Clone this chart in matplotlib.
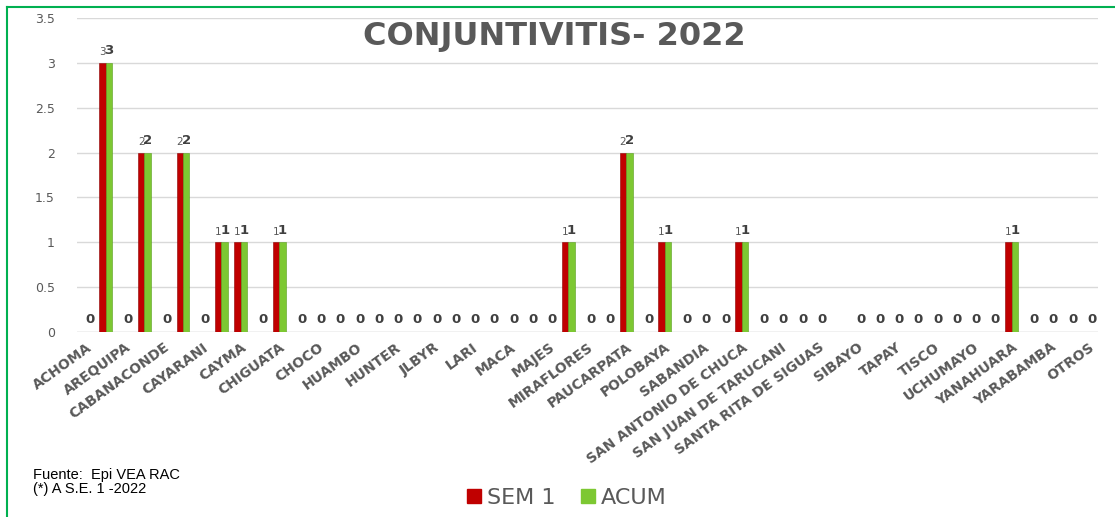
import numpy as np
import matplotlib
matplotlib.use("Agg")
import matplotlib.pyplot as plt
from matplotlib.lines import Line2D

# categories (labels shown only every other one, as in the original)
distritos = ["ACHOMA", "ALTO SELVA ALEGRE", "AREQUIPA", "ATICO", "CABANACONDE",
             "CALLALLI", "CAYARANI", "CAYLLOMA", "CAYMA", "CERRO COLORADO",
             "CHIGUATA", "CHIVAY", "CHOCO", "COPORAQUE", "HUAMBO", "HUANCA",
             "HUNTER", "ICHUPAMPA", "JLBYR", "LA JOYA", "LARI", "LLUTA", "MACA",
             "MADRIGAL", "MAJES", "MARIANO MELGAR", "MIRAFLORES", "MOLLEBAYA",
             "PAUCARPATA", "POCSI", "POLOBAYA", "QUEQUEÑA", "SABANDIA", "SACHACA",
             "SAN ANTONIO DE CHUCA", "SAN JUAN DE SIGUAS", "SAN JUAN DE TARUCANI",
             "SANTA ISABEL DE SIGUAS", "SANTA RITA DE SIGUAS", "SANTO TOMAS",
             "SIBAYO", "SOCABAYA", "TAPAY", "TIABAYA", "TISCO", "TUTI", "UCHUMAYO",
             "VITOR", "YANAHUARA", "YANQUE", "YARABAMBA", "YURA", "OTROS"]

sem1 = [0, 3, 0, 2, 0, 2, 0, 1, 1, 0,
        1, 0, 0, 0, 0, 0, 0, 0, 0, 0,
        0, 0, 0, 0, 0, 1, 0, 0, 2, 0,
        1, 0, 0, 0, 1, 0, 0, 0, 0, np.nan,
        0, 0, 0, 0, 0, 0, 0, 0, 1, 0,
        0, 0, 0]
acum = [0, 3, 0, 2, 0, 2, 0, 1, 1, 0,
        1, 0, 0, 0, 0, 0, 0, 0, 0, 0,
        0, 0, 0, 0, 0, 1, 0, 0, 2, 0,
        1, 0, 0, 0, 1, 0, 0, 0, 0, np.nan,
        0, 0, 0, 0, 0, 0, 0, 0, 1, 0,
        0, 0, 0]

gris = "#595959"
rojo = "#C00000"
verde = "#7DC832"

fig = plt.figure(figsize=(11.15, 5.17), dpi=100)
ax = fig.add_axes([0.069, 0.358, 0.916, 0.607])

x = np.arange(len(distritos))
w = 0.33
ax.bar(x - w / 2, sem1, w, color=rojo, edgecolor="#8B0000", linewidth=0.4, zorder=3)
ax.bar(x + w / 2, acum, w, color=verde, edgecolor="#5A9E1E", linewidth=0.4, zorder=3)

# data labels
for i in range(len(distritos)):
    if not np.isnan(sem1[i]) and sem1[i] > 0:
        ax.annotate(f"{sem1[i]:g}", (x[i] - w / 2, sem1[i]), xytext=(0, 4),
                    textcoords="offset points", ha="center", va="bottom",
                    fontsize=7.5, color=gris)
    if not np.isnan(acum[i]):
        ax.annotate(f"{acum[i]:g}", (x[i] + w / 2, acum[i]), xytext=(0, 4),
                    textcoords="offset points", ha="center", va="bottom",
                    fontsize=9.5, fontweight="bold", color="#404040")

ax.set_xlim(-0.5, len(distritos) - 0.5)
ax.set_ylim(0, 3.5)
ax.set_yticks(np.arange(0, 3.51, 0.5))
ax.set_yticklabels(["0", "0.5", "1", "1.5", "2", "2.5", "3", "3.5"])
ax.set_xticks(x[::2])
ax.set_xticklabels(distritos[::2], rotation=36, ha="right", va="top",
                   rotation_mode="anchor", fontsize=10, fontweight="bold", color=gris)
ax.tick_params(axis="y", length=0, labelsize=9, labelcolor=gris, pad=16)
ax.tick_params(axis="x", length=0, pad=6)
ax.grid(axis="y", color="#D9D9D9", linewidth=1, zorder=0)
for s in ax.spines.values():
    s.set_visible(False)
ax.axhline(0, color="#D9D9D9", linewidth=1, zorder=1)

fig.text(0.497, 0.93, "CONJUNTIVITIS- 2022", fontsize=23, fontweight="bold",
         color=gris, ha="center", va="center")

handles = [Line2D([], [], marker="s", linestyle="", markersize=10, color=rojo),
           Line2D([], [], marker="s", linestyle="", markersize=10, color=verde)]
fig.legend(handles, ["SEM 1", "ACUM"], loc="center", bbox_to_anchor=(0.508, 0.037),
           ncol=2, frameon=False, fontsize=16, labelcolor=gris, handletextpad=0.25,
           handlelength=0.7, columnspacing=1.1)

fig.text(0.03, 0.067, "Fuente:  Epi VEA RAC\n(*) A S.E. 1 -2022", fontsize=10.5,
         family="Liberation Sans", va="center", linespacing=1.0)

# green frame (left and top edges visible)
fig.add_artist(Line2D([0.0065, 0.0065], [0, 0.986], color="#00B050", lw=1.5))
fig.add_artist(Line2D([0.0065, 1.0], [0.986, 0.986], color="#00B050", lw=1.5))

fig.savefig("out.png", dpi=100)
